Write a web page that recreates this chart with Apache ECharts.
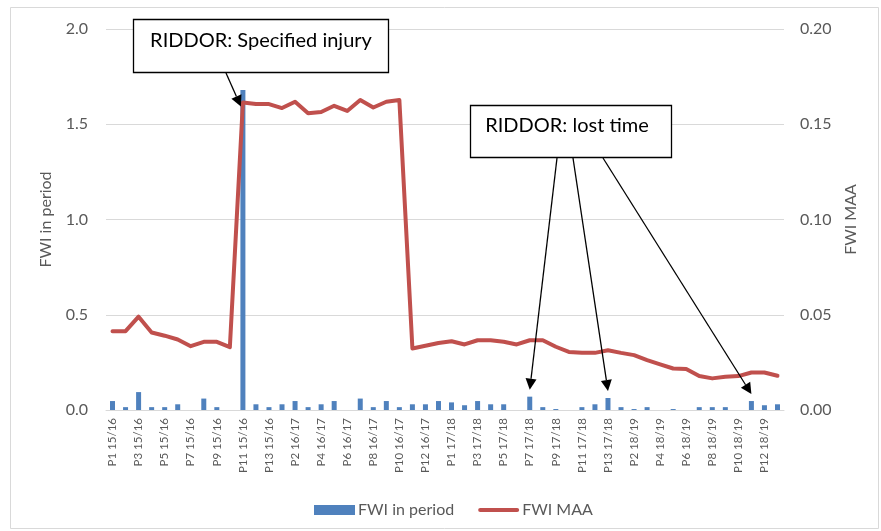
<!DOCTYPE html>
<html>
<head>
<meta charset="utf-8">
<script src="https://cdn.jsdelivr.net/npm/echarts@6/dist/echarts.min.js"></script>
<style>
html,body{margin:0;padding:0;background:#fff;}
#main{width:881px;height:531px;}
</style>
</head>
<body>
<div id="main"></div>
<script>
// ---- data ----
var years = ['15/16', '16/17', '17/18', '18/19'];
var periods = ['P1','P2','P3','P4','P5','P6','P7','P8','P9','P10','P11','P12','P13'];
var categories = [];
years.forEach(function (y) { periods.forEach(function (p) { categories.push(p + ' ' + y); }); });

var fwiInPeriod = [
  0.047, 0.015, 0.094, 0.015, 0.015, 0.03, 0, 0.06, 0.015, 0, 1.68, 0.03, 0.015,
  0.03, 0.047, 0.015, 0.03, 0.047, 0, 0.06, 0.015, 0.047, 0.015, 0.03, 0.03, 0.047,
  0.04, 0.025, 0.047, 0.03, 0.03, 0, 0.07, 0.015, 0.005, 0, 0.015, 0.03, 0.063,
  0.015, 0.005, 0.015, 0, 0.005, 0, 0.015, 0.015, 0.015, 0, 0.047, 0.025, 0.03
];
var fwiMAA = [
  0.0414, 0.0414, 0.049, 0.0407, 0.039, 0.037, 0.0335, 0.0358, 0.0358, 0.033, 0.1614, 0.1606, 0.1606,
  0.1585, 0.1618, 0.1558, 0.1564, 0.1597, 0.157, 0.1627, 0.1588, 0.1618, 0.1627, 0.0323, 0.0337, 0.0352,
  0.0361, 0.0344, 0.0366, 0.0366, 0.0358, 0.0344, 0.0366, 0.0366, 0.0332, 0.0305, 0.030, 0.030, 0.0314,
  0.030, 0.0288, 0.0262, 0.024, 0.0218, 0.0215, 0.0178, 0.0166, 0.0174, 0.0178, 0.0197, 0.0197, 0.018
];
var leftTicks = { min: 0, max: 2, interval: 0.5 };
var rightTicks = { min: 0, max: 0.2, interval: 0.05 };
var seriesNames = ['FWI in period', 'FWI MAA'];
var annotationTexts = ['RIDDOR: Specified injury', 'RIDDOR: lost time'];
var specifiedIdx = [10];
var lostTimeIdx = [32, 38, 49];

// ---- chart ----
var FONT = 'Lato, "Open Sans", sans-serif';
var chart = echarts.init(document.getElementById('main'), null, { renderer: 'canvas' });
var option = {
  animation: false,
  backgroundColor: '#ffffff',
  textStyle: { fontFamily: FONT },
  grid: { left: 106, right: 97, top: 29, bottom: 121, containLabel: false },
  legend: {
    left: 309, top: 497,
    itemWidth: 41, itemHeight: 10, itemGap: 24,
    textStyle: { fontFamily: FONT, fontSize: 16, color: '#595959', padding: [0, 0, 0, -2] },
    data: [
      { name: seriesNames[0], icon: 'rect' },
      { name: seriesNames[1], icon: 'path://M2,0 L38,0 A2,2,0,0,1,38,4 L2,4 A2,2,0,0,1,2,0 Z' }
    ]
  },
  xAxis: {
    type: 'category',
    data: categories,
    boundaryGap: true,
    axisLine: { lineStyle: { color: '#d9d9d9', width: 1 } },
    axisTick: { show: false },
    axisLabel: {
      interval: 1, rotate: 90, margin: 8,
      fontFamily: FONT, fontSize: 11.5, color: '#595959'
    },
    splitLine: { show: false }
  },
  yAxis: [
    {
      type: 'value', min: leftTicks.min, max: leftTicks.max, interval: leftTicks.interval,
      name: seriesNames[0], nameLocation: 'middle', nameGap: 52, nameRotate: 90,
      nameTextStyle: { fontFamily: FONT, fontSize: 16, color: '#595959' },
      axisLine: { show: false }, axisTick: { show: false },
      axisLabel: { margin: 18, fontFamily: FONT, fontSize: 16, color: '#595959',
        formatter: function (v) { return v.toFixed(1); } },
      splitLine: { lineStyle: { color: '#d9d9d9', width: 1 } }
    },
    {
      type: 'value', min: rightTicks.min, max: rightTicks.max, interval: rightTicks.interval,
      position: 'right',
      name: seriesNames[1], nameLocation: 'middle', nameGap: 58, nameRotate: 90,
      nameTextStyle: { fontFamily: FONT, fontSize: 16, color: '#595959' },
      axisLine: { show: false }, axisTick: { show: false },
      axisLabel: { margin: 16, fontFamily: FONT, fontSize: 16, color: '#595959',
        formatter: function (v) { return v.toFixed(2); } },
      splitLine: { show: false }
    }
  ],
  series: [
    {
      name: seriesNames[0], type: 'bar', data: fwiInPeriod, yAxisIndex: 0,
      barWidth: 5, itemStyle: { color: '#4F81BD' }, z: 2
    },
    {
      name: seriesNames[1], type: 'line', data: fwiMAA, yAxisIndex: 1,
      symbol: 'none', showSymbol: false, smooth: false,
      lineStyle: { color: '#C0504D', width: 4, cap: 'round', join: 'round' },
      itemStyle: { color: '#C0504D' }, z: 3
    }
  ]
};
chart.setOption(option);

// ---- annotations (boxes + arrows) ----
function arrow(x1, y1, x2, y2) {
  var ang = Math.atan2(y2 - y1, x2 - x1);
  var len = 11, half = 5.5;
  var bx = x2 - len * Math.cos(ang), by = y2 - len * Math.sin(ang);
  var px = -Math.sin(ang) * half, py = Math.cos(ang) * half;
  return [
    { type: 'line', z: 100, shape: { x1: x1, y1: y1, x2: bx, y2: by },
      style: { stroke: '#000', lineWidth: 1.3 } },
    { type: 'polygon', z: 100, shape: { points: [[x2, y2], [bx + px, by + py], [bx - px, by - py]] },
      style: { fill: '#000' } }
  ];
}
var els = [];
// outer chart border
els.push({ type: 'rect', z: 0, shape: { x: 10.5, y: 7.5, width: 868, height: 521 },
  style: { fill: null, stroke: '#d9d9d9', lineWidth: 1 } });
// box 1
els.push({ type: 'rect', z: 101, shape: { x: 133.5, y: 19.5, width: 255, height: 53 },
  style: { fill: '#fff', stroke: '#000', lineWidth: 1.3 } });
els.push({ type: 'text', z: 102, x: 261, y: 41,
  style: { text: annotationTexts[0], font: '20px ' + FONT, fill: '#000', textAlign: 'center', textVerticalAlign: 'middle' } });
// box 2
els.push({ type: 'rect', z: 101, shape: { x: 470.5, y: 105.5, width: 201, height: 52 },
  style: { fill: '#fff', stroke: '#000', lineWidth: 1.3 } });
els.push({ type: 'text', z: 102, x: 567, y: 126,
  style: { text: annotationTexts[1], font: '20px ' + FONT, fill: '#000', textAlign: 'center', textVerticalAlign: 'middle' } });

// arrow 1 -> towards the specified injury bar
specifiedIdx.forEach(function (i) {
  var p = chart.convertToPixel({ xAxisIndex: 0, yAxisIndex: 1 }, [i, fwiMAA[i]]);
  els = els.concat(arrow(226, 73, p[0] - 2, p[1] + 4));
});
// arrows 2 -> lost time bars
var starts = [557, 573, 603];
lostTimeIdx.forEach(function (i, k) {
  var p = chart.convertToPixel({ xAxisIndex: 0, yAxisIndex: 0 }, [i, fwiInPeriod[i]]);
  els = els.concat(arrow(starts[k], 158, p[0], p[1] - 7));
});
chart.setOption({ graphic: { elements: els } });
</script>
</body>
</html>
